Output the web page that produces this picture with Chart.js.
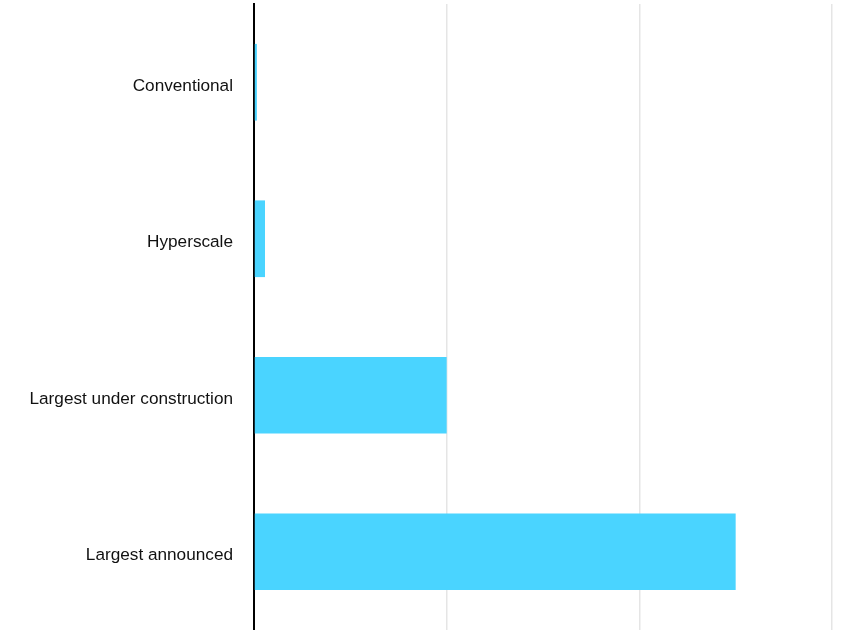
<!DOCTYPE html>
<html>
<head>
<meta charset="utf-8">
<script src="https://cdn.jsdelivr.net/npm/chart.js@4"></script>
<style>
  body { margin: 0; background: #fff; }
  canvas { display: block; }
</style>
</head>
<body>
<canvas id="chart" width="860" height="630"></canvas>
<script>
const categories = ["Conventional", "Hyperscale", "Largest under construction", "Largest announced"];
const capacity = [0.015, 0.057, 1, 2.5];

const ctx = document.getElementById("chart").getContext("2d");
new Chart(ctx, {
  type: "bar",
  data: {
    labels: categories,
    datasets: [{
      data: capacity,
      backgroundColor: "#4ad4ff",
      borderWidth: 0,
      barPercentage: 0.98,
      categoryPercentage: 0.5
    }]
  },
  options: {
    indexAxis: "y",
    responsive: false,
    animation: false,
    layout: { padding: { left: 0, right: 28, top: 4, bottom: 0 } },
    plugins: {
      legend: { display: false },
      tooltip: { enabled: false }
    },
    scales: {
      x: {
        min: 0,
        max: 3,
        ticks: { display: false, stepSize: 1 },
        grid: { color: "#e5e5e5", lineWidth: 1.5, drawTicks: false },
        border: { display: false },
        afterFit: s => { s.height = 0; }
      },
      y: {
        ticks: {
          color: "#111",
          padding: 21,
          labelOffset: 4,
          font: { family: "Liberation Sans, Arial", size: 17.2 }
        },
        grid: { display: false, drawTicks: false },
        border: { display: true, color: "#000", width: 2 },
        afterFit: s => { s.width = 254; s.paddingTop = 0; s.paddingBottom = 0; }
      }
    }
  }
});
</script>
</body>
</html>
